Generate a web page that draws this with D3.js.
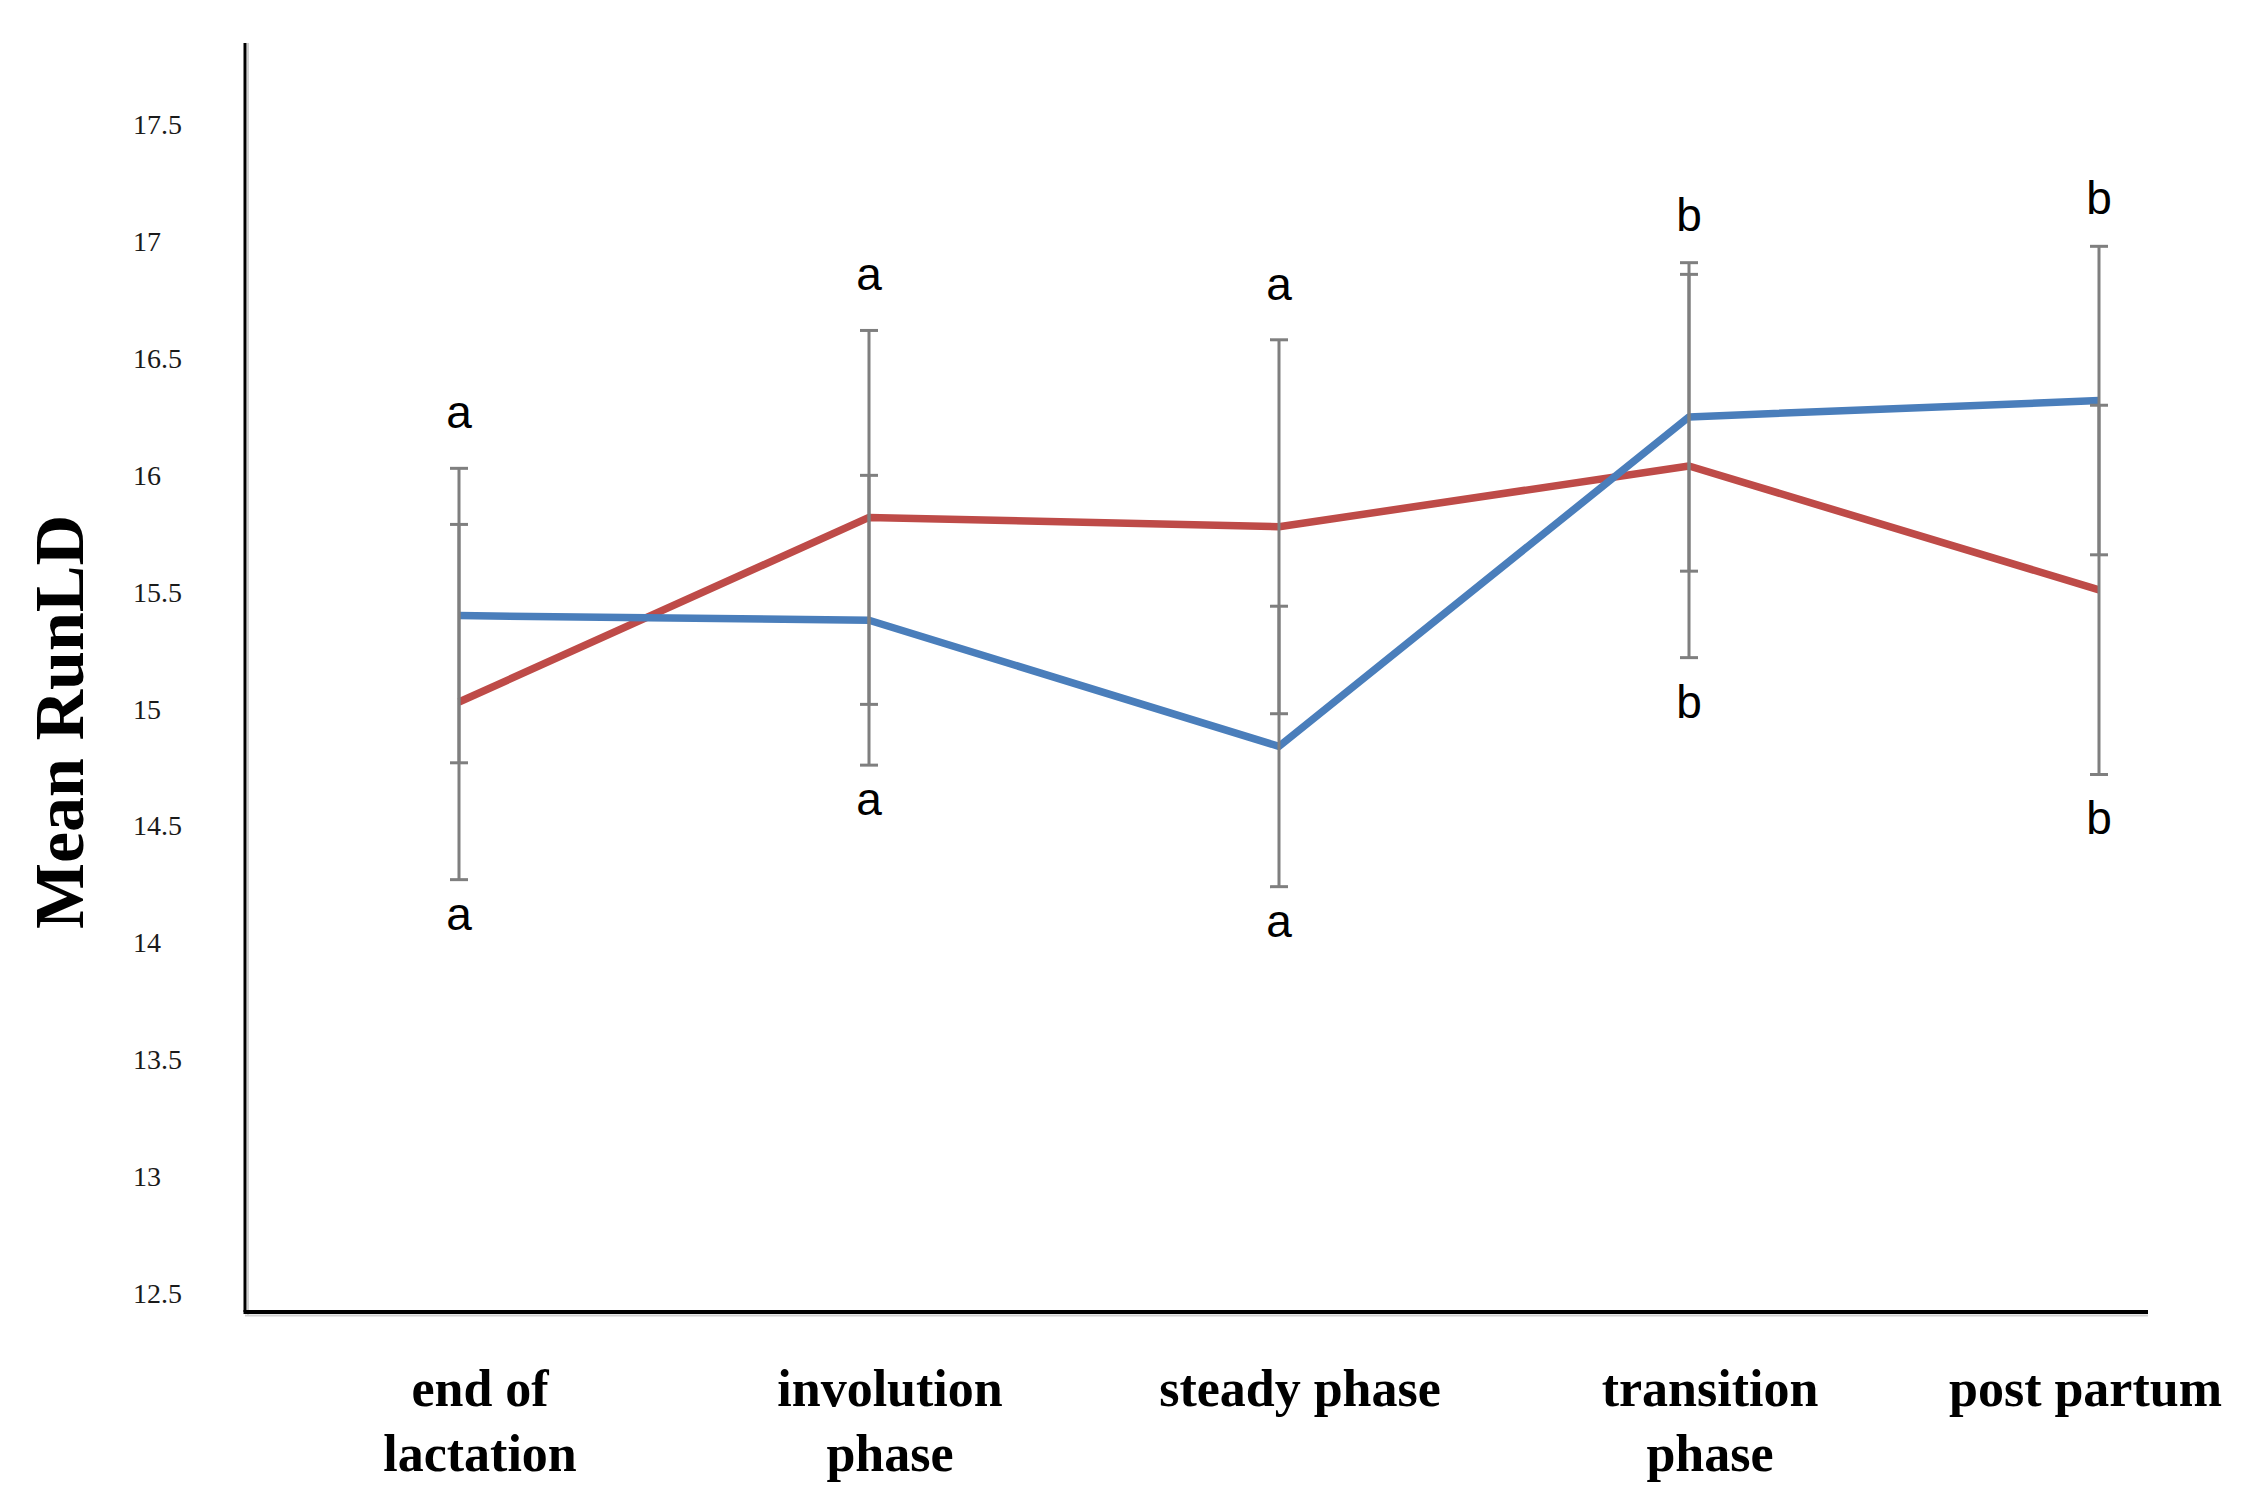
<!DOCTYPE html>
<html>
<head>
<meta charset="utf-8">
<script src="https://cdn.jsdelivr.net/npm/d3@7"></script>
<style>
  html, body { margin: 0; padding: 0; background: #ffffff; }
  svg { display: block; }
</style>
</head>
<body>
<svg id="chart" width="2250" height="1507"></svg>
<script>
// ---- Data ----
const categories = ["end of lactation", "involution phase", "steady phase", "transition phase", "post partum"];
const categoryLines = [["end of", "lactation"], ["involution", "phase"], ["steady phase"], ["transition", "phase"], ["post partum"]];
const blueValues = [15.40, 15.38, 14.84, 16.25, 16.32];
const blueErrors = [0.63, 0.62, 0.60, 0.66, 0.66];
const redValues  = [15.03, 15.82, 15.78, 16.04, 15.51];
const redErrors  = [0.76, 0.80, 0.80, 0.82, 0.79];
const topLetters = ["a", "a", "a", "b", "b"];
const bottomLetters = ["a", "a", "a", "b", "b"];
const yTickValues = [12.5, 13, 13.5, 14, 14.5, 15, 15.5, 16, 16.5, 17, 17.5];
const yTitle = "Mean RunLD";

// ---- Layout ----
const svg = d3.select("#chart");
const axisX = 245, axisBottom = 1312, axisTop = 43, axisRight = 2148;

const x = d3.scalePoint().domain(categories).range([459, 2099]);
const y = d3.scaleLinear().domain([12.42, 17.85]).range([axisBottom, axisTop]);

const blueColor = "#4a7ebb", redColor = "#be4b48", errColor = "#7f7f7f";

// axis shadows
svg.append("line").attr("x1", axisX + 3).attr("x2", axisX + 3).attr("y1", axisTop).attr("y2", axisBottom + 3)
  .attr("stroke", "#d0d0d0").attr("stroke-width", 2);
svg.append("line").attr("x1", axisX).attr("x2", axisRight).attr("y1", axisBottom + 3.5).attr("y2", axisBottom + 3.5)
  .attr("stroke", "#d0d0d0").attr("stroke-width", 2);

// Y axis
const yAxisG = svg.append("g").attr("transform", `translate(${axisX},0)`)
  .call(d3.axisLeft(y).tickValues(yTickValues).tickSize(0).tickFormat(d => String(d)));
yAxisG.select(".domain").attr("stroke", "#000").attr("stroke-width", 3)
  .attr("d", `M0,${axisTop}V${axisBottom}`);
yAxisG.selectAll(".tick text")
  .attr("x", -112).attr("text-anchor", "start")
  .attr("font-family", "'Liberation Serif', 'Times New Roman', serif")
  .attr("font-size", 28).attr("fill", "#1a1a1a");

// X axis line
svg.append("line").attr("x1", axisX - 1.5).attr("x2", axisRight).attr("y1", axisBottom).attr("y2", axisBottom)
  .attr("stroke", "#000").attr("stroke-width", 4);

// X labels
const xl = svg.append("g");
categories.forEach((c, i) => {
  const t = xl.append("text")
    .attr("font-family", "'Liberation Serif', 'Times New Roman', serif")
    .attr("font-weight", "bold").attr("font-size", 52).attr("fill", "#000")
    .attr("text-anchor", "middle");
  categoryLines[i].forEach((ln, j) => {
    t.append("tspan").attr("x", x(c) + 21).attr("y", 1406 + j * 65).text(ln);
  });
  const bb = t.node().getBBox();
  if (bb.x + bb.width > 2222) {
    const shift = bb.x + bb.width - 2222;
    t.selectAll("tspan").attr("x", x(c) + 21 - shift);
  }
});

// Y title
svg.append("text")
  .attr("transform", "translate(83,722) rotate(-90)")
  .attr("text-anchor", "middle")
  .attr("font-family", "'Liberation Serif', 'Times New Roman', serif")
  .attr("font-weight", "bold").attr("font-size", 70).attr("fill", "#000")
  .text(yTitle);

// Lines
const line = d3.line().x((d, i) => x(categories[i])).y(d => y(d));
svg.append("path").datum(redValues).attr("d", line).attr("fill", "none")
  .attr("stroke", redColor).attr("stroke-width", 7.5).attr("stroke-linejoin", "round");
svg.append("path").datum(blueValues).attr("d", line).attr("fill", "none")
  .attr("stroke", blueColor).attr("stroke-width", 7.5).attr("stroke-linejoin", "round");

// Error bars
const capHalf = 9;
function errorBars(values, errors) {
  const g = svg.append("g");
  values.forEach((v, i) => {
    const cx = x(categories[i]);
    const y1 = y(v + errors[i]), y2 = y(v - errors[i]);
    g.append("line").attr("x1", cx).attr("x2", cx).attr("y1", y1).attr("y2", y2)
      .attr("stroke", errColor).attr("stroke-width", 3);
    [y1, y2].forEach(yy => {
      g.append("line").attr("x1", cx - capHalf).attr("x2", cx + capHalf).attr("y1", yy).attr("y2", yy)
        .attr("stroke", errColor).attr("stroke-width", 3);
    });
  });
}
errorBars(redValues, redErrors);
errorBars(blueValues, blueErrors);

// Significance letters
const lg = svg.append("g")
  .attr("font-family", "'Liberation Sans', Arial, sans-serif")
  .attr("font-size", 46).attr("fill", "#000").attr("text-anchor", "middle");
categories.forEach((c, i) => {
  const cx = x(c);
  const top = Math.min(y(blueValues[i] + blueErrors[i]), y(redValues[i] + redErrors[i]));
  const bot = Math.max(y(blueValues[i] - blueErrors[i]), y(redValues[i] - redErrors[i]));
  lg.append("text").attr("x", cx).attr("y", top - (topLetters[i] === "b" ? 32 : 40)).text(topLetters[i]);
  const h = bottomLetters[i] === "b" ? 34 : 24;
  lg.append("text").attr("x", cx).attr("y", bot + 26 + h).text(bottomLetters[i]);
});
</script>
</body>
</html>
